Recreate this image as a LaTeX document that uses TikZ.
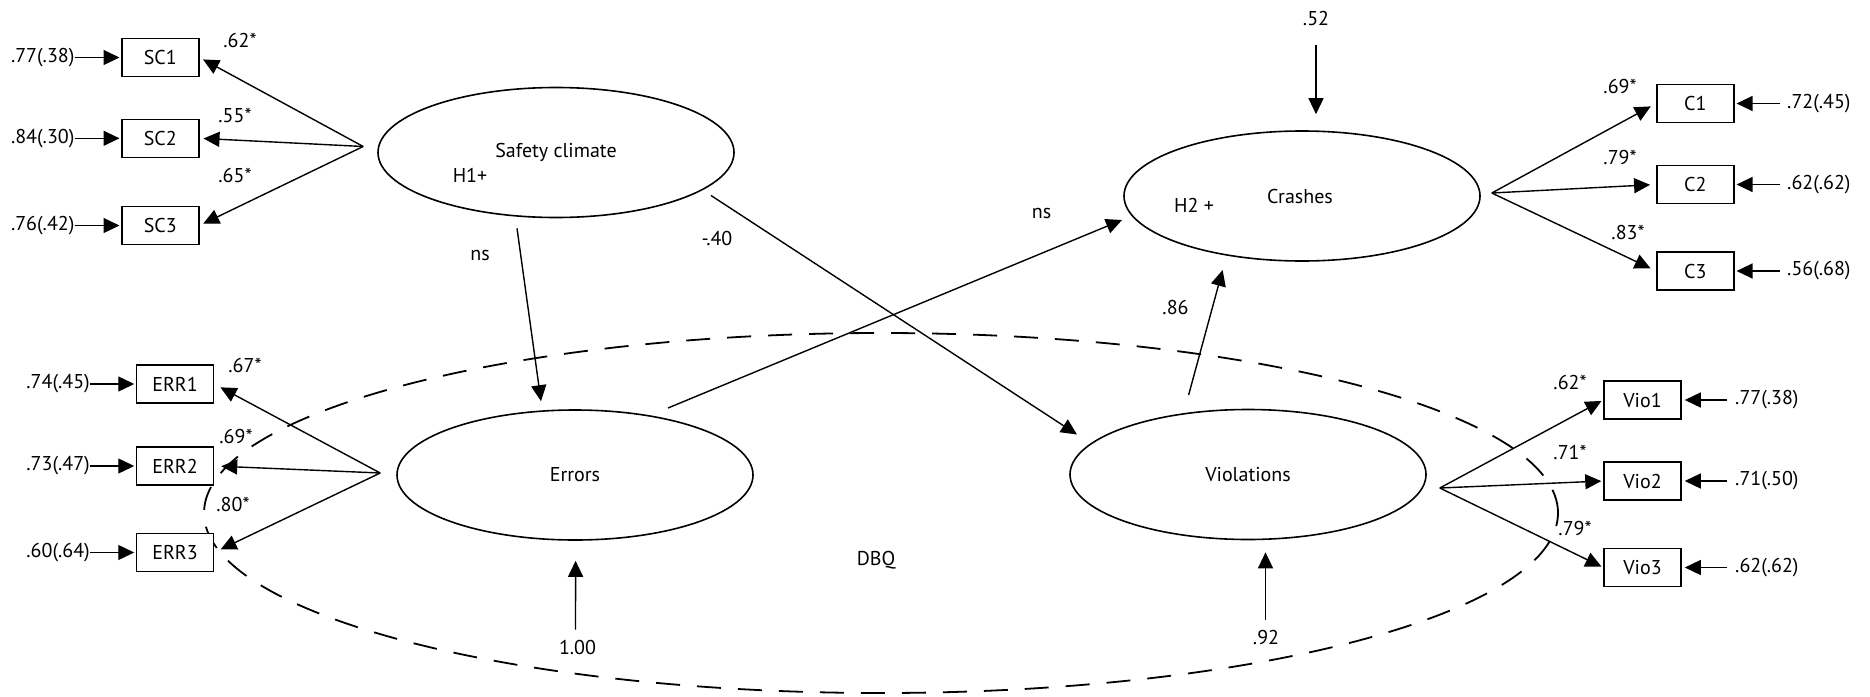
\documentclass[tikz,border=0pt]{standalone}
\usepackage{fontspec}
\setmainfont{PT Sans}
\usetikzlibrary{arrows.meta,shapes.geometric,calc}
\begin{document}
\begin{tikzpicture}[x=1pt,y=-1pt,
  font=\fontsize{20}{24}\selectfont,
  arr/.style={-{Triangle[length=16pt,width=15pt]}, line width=1.4pt},
  lat/.style={ellipse, draw, line width=1.6pt, minimum width=356pt, minimum height=130pt, inner sep=0pt},
  obs/.style={rectangle, draw, fill=white, line width=1.5pt, minimum width=77pt, minimum height=38pt, inner sep=0pt},
  lab/.style={inner sep=0pt},
  dbqline/.style={ellipse, draw, line width=1.8pt, dash pattern=on 24pt off 17pt, minimum width=1354pt, minimum height=360pt, inner sep=0pt}]
\useasboundingbox (0,0) rectangle (1870,696);

% second-order factor (dashed)
\node[dbqline] (DBQE) at (881,513) {};
\node[lab] (DBQ) at (876,560) {DBQ};

% latent variables
\node[lat] (SC) at (556,152.5) {Safety climate};
\node[lat] (ERR) at (575,475) {Errors};
\node[lat] (CR) at (1302,196) {\hspace*{-4pt}Crashes};
\node[lat] (VIO) at (1248,474.5) {Violations};
\node[lab] (H1) at (470,175) {H1+};
\node[lab] (H2) at (1194,205) {H2 +};

% observed boxes
\node[obs] (SC1) at (160.25,57.5) {SC1};
\node[obs] (SC2) at (160.25,138.3) {SC2};
\node[obs] (SC3) at (160.25,225.5) {SC3};
\node[obs] (ERR1) at (175,384) {ERR1};
\node[obs] (ERR2) at (175,466) {ERR2};
\node[obs] (ERR3) at (175,552.5) {ERR3};
\node[obs] (C1) at (1695.3,103.5) {C1};
\node[obs] (C2) at (1695.3,184.5) {C2};
\node[obs] (C3) at (1695.3,271) {C3};
\node[obs] (V1) at (1642.5,400) {Vio1};
\node[obs] (V2) at (1642.5,481) {Vio2};
\node[obs] (V3) at (1642.5,567.5) {Vio3};

% residual labels
\node[lab, anchor=east] (rS1) at (74.6,57.5) {.77(.38)};
\node[lab, anchor=east] (rS2) at (74.6,138.3) {.84(.30)};
\node[lab, anchor=east] (rS3) at (74.6,225.5) {.76(.42)};
\node[lab, anchor=east] (rE1) at (90,384) {.74(.45)};
\node[lab, anchor=east] (rE2) at (90,466) {.73(.47)};
\node[lab, anchor=east] (rE3) at (90,552.5) {.60(.64)};
\node[lab, anchor=west] (rC1) at (1787,103.5) {.72(.45)};
\node[lab, anchor=west] (rC2) at (1787,184.5) {.62(.62)};
\node[lab, anchor=west] (rC3) at (1787,271) {.56(.68)};
\node[lab, anchor=west] (rV1) at (1735,400) {.77(.38)};
\node[lab, anchor=west] (rV2) at (1735,481) {.71(.50)};
\node[lab, anchor=west] (rV3) at (1735,567.5) {.62(.62)};

\foreach \a/\b in {rS1/SC1,rS2/SC2,rS3/SC3,rE1/ERR1,rE2/ERR2,rE3/ERR3}
  \draw[arr, shorten >=1.5pt] (\a) -- (\b);
\foreach \a/\b in {rC1/C1,rC2/C2,rC3/C3}
  \draw[arr, shorten <=7pt, shorten >=2pt] (\a) -- (\b);
\foreach \a/\b in {rV1/V1,rV2/V2,rV3/V3}
  \draw[arr, shorten <=8pt, shorten >=3pt] (\a) -- (\b);

% loading labels
\node[lab] (lS1) at (240,40) {.62*};
\node[lab] (lS2) at (235,115) {.55*};
\node[lab] (lS3) at (235,175) {.65*};
\node[lab] (lE1) at (245,365) {.67*};
\node[lab] (lE2) at (236,436) {.69*};
\node[lab] (lE3) at (233,504) {.80*};
\node[lab] (lC1) at (1620,86) {.69*};
\node[lab] (lC2) at (1620,157) {.79*};
\node[lab] (lC3) at (1628,232) {.83*};
\node[lab] (lV1) at (1570,382) {.62*};
\node[lab] (lV2) at (1570,452) {.71*};
\node[lab] (lV3) at (1575,528) {.79*};

% convergence points of loadings
\coordinate (scp) at ($(SC.west)+(-14,-6)$);
\coordinate (erp) at ($(ERR.west)+(-16,-2)$);
\coordinate (crp) at ($(CR.east)+(11,-3)$);
\coordinate (vip) at ($(VIO.east)+(13,13.5)$);

\foreach \b in {SC1,SC2,SC3} \draw[arr, shorten >=4pt] (scp) -- (\b.east);
\foreach \b in {ERR1,ERR2,ERR3} \draw[arr, shorten >=7pt] (erp) -- (\b.east);
\foreach \b in {C1,C2,C3} \draw[arr, shorten >=6pt] (crp) -- (\b.west);
\foreach \b in {V1,V2,V3} \draw[arr, shorten >=2pt] (vip) -- (\b.west);

% structural paths
\draw[arr] ($(SC.south)+(-39,10)$) -- ($(ERR.north)+(-34,-8)$);
\node[lab] (ns1) at (480,255) {ns};
\draw[arr] ($(SC.center)+(155,43)$) -- ($(VIO.center)+(-171,-40)$);
\node[lab] (m40) at (717,238) {-.40};
\draw[arr] ($(ERR.center)+(93,-67)$) -- ($(CR.center)+(-180,24)$);
\node[lab] (ns2) at (1041.5,213) {ns};
\draw[arr] ($(VIO.center)+(-59.4,-79.5)$) -- ($(CR.center)+(-79.4,74)$);
\node[lab] (l86) at (1175.5,307) {.86};

% disturbances
\node[lab] (l52) at (1316,18) {.52};
\draw[arr] ($(l52.south)+(0,20)$) -- ($(CR.north)+(14,-16)$);
\node[lab] (l100) at (577.5,647) {1.00};
\draw[arr] ($(l100.north)+(-2,-10)$) -- ($(ERR.south)+(0.6,20)$);
\node[lab] (l92) at (1266,637) {.92};
\draw[arr] ($(l92.north)+(-0.5,-10)$) -- ($(VIO.south)+(17.5,12)$);
\end{tikzpicture}
\end{document}
